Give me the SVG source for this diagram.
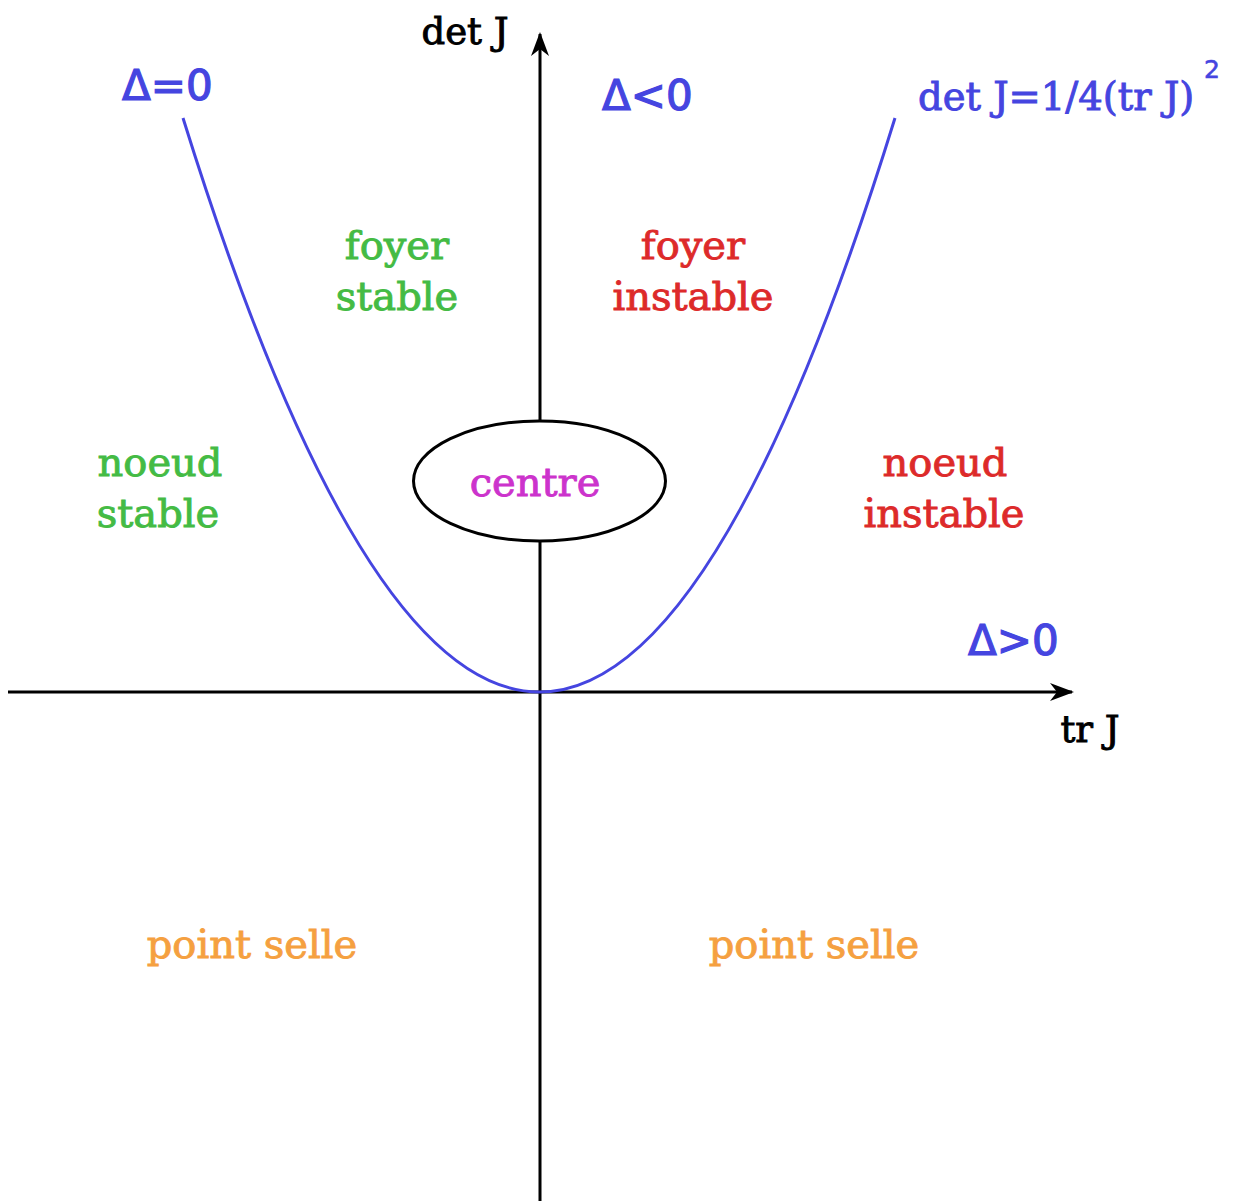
<svg xmlns="http://www.w3.org/2000/svg" width="1238" height="1201" viewBox="0 0 1238 1201">
<style>
.s{font-family:"DejaVu Serif","Liberation Serif",serif;font-size:40px;text-anchor:middle;stroke-width:0.9px}
.d{font-family:"DejaVu Sans","Liberation Sans",sans-serif;font-size:42px;fill:#4545e0;stroke:#4545e0;stroke-width:1.2px}
.g{fill:#44bb44;stroke:#44bb44}.r{fill:#dd2a2a;stroke:#dd2a2a}.o{fill:#f5a040;stroke:#f5a040}.m{fill:#cc33cc;stroke:#cc33cc}.b{fill:#4545e0;stroke:#4545e0}.k{fill:#000;stroke:#000}
.ax{stroke:#000;stroke-width:3;fill:none}
</style>
<defs>
<marker id="ar" viewBox="0 0 24 18" refX="22" refY="9" markerWidth="24" markerHeight="18" markerUnits="userSpaceOnUse" orient="auto">
<path d="M0,0 L24,9 L0,18 L7,9 Z" fill="#000"/>
</marker>
</defs>
<rect width="1238" height="1201" fill="#fff"/>
<g id="connectors">
<line class="ax" x1="8" y1="692" x2="1072" y2="692" marker-end="url(#ar)"/>
<line class="ax" x1="540" y1="1201" x2="540" y2="34" marker-end="url(#ar)"/>
<path d="M183,118 Q540,1266 895,118" fill="none" stroke="#4545e0" stroke-width="3"/>
</g>
<g id="centre">
<ellipse cx="539.5" cy="481" rx="126" ry="60" fill="#fff" stroke="#000" stroke-width="3"/>
<text class="s m" x="535" y="496">centre</text>
</g>
<g id="labels">
<text class="s k" x="465" y="44" style="font-size:37px">det J</text>
<text class="s k" x="1090" y="742" style="font-size:37px">tr J</text>
<text class="d" x="122" y="100">Δ=0</text>
<text class="d" x="602" y="110">Δ&lt;0</text>
<text class="d" x="968" y="655">Δ&gt;0</text>
<text class="s b" x="918" y="110" style="text-anchor:start;font-size:38.5px">det J=1/4(tr J)</text>
<text class="b" x="1204" y="78" style="font-family:'DejaVu Sans',sans-serif;font-size:25px;stroke-width:0.6px">2</text>
</g>
<g id="foyer-stable"><text class="s g" x="397" y="259">foyer</text><text class="s g" x="397" y="310">stable</text></g>
<g id="foyer-instable"><text class="s r" x="693" y="259">foyer</text><text class="s r" x="693" y="310">instable</text></g>
<g id="noeud-stable"><text class="s g" x="160" y="476">noeud</text><text class="s g" x="158" y="527">stable</text></g>
<g id="noeud-instable"><text class="s r" x="945" y="476">noeud</text><text class="s r" x="944" y="527">instable</text></g>
<g id="point-selle-left"><text class="s o" x="252" y="958">point selle</text></g>
<g id="point-selle-right"><text class="s o" x="814" y="958">point selle</text></g>
</svg>
